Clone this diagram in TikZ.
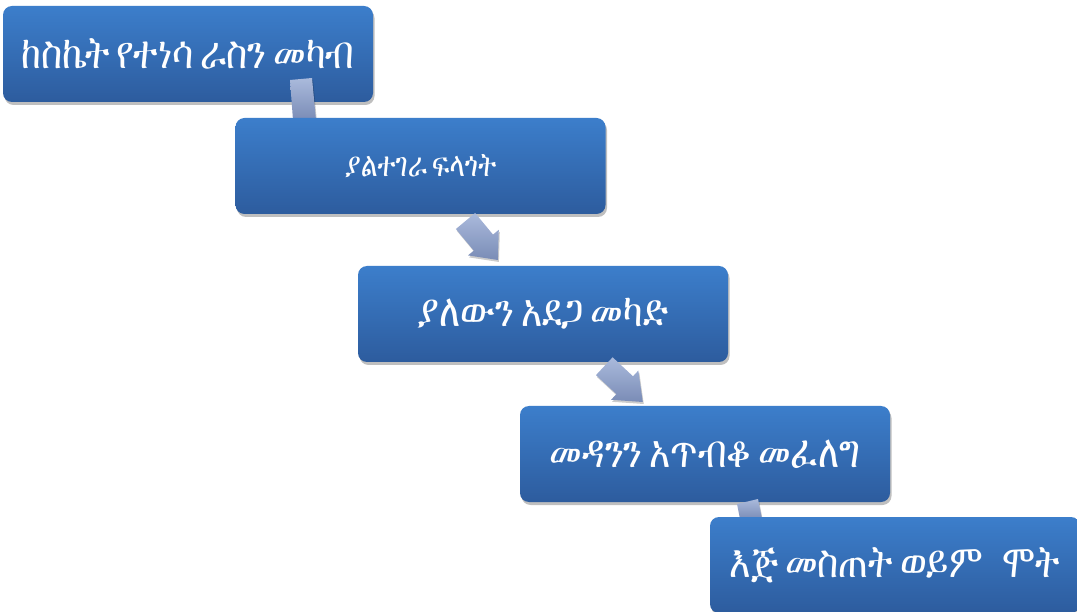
\documentclass[tikz,border=0pt]{standalone}
\usepackage{fontspec}
\usetikzlibrary{shadows}
\newfontfamily\eth[Script=Ethiopic,WordSpace=0.75]{FreeSerif}
\newcommand{\ethtxt}[1]{\scalebox{0.95}[1.2]{#1}}
\definecolor{boxtop}{RGB}{60,126,203}
\definecolor{boxbot}{RGB}{45,92,158}
\definecolor{arrtop}{RGB}{170,186,220}
\definecolor{arrbot}{RGB}{122,140,182}
\tikzset{
  stepbox/.style={rectangle, rounded corners=9pt, minimum width=370pt, minimum height=96pt,
    top color=boxtop, bottom color=boxbot, text=white, inner sep=0pt,
    drop shadow={shadow xshift=1.5pt, shadow yshift=-3pt, opacity=0.25, fill=black}},
  bigtext/.style={font=\eth\fontsize{38}{44}\selectfont},
  smalltext/.style={font=\eth\fontsize{28}{32}\selectfont},
  blockarrow/.style={top color=arrtop, bottom color=arrbot, draw=none,
    drop shadow={shadow xshift=1pt, shadow yshift=-2pt, opacity=0.2, fill=black}}
}
\begin{document}
\begin{tikzpicture}[x=1pt,y=-1pt]
\useasboundingbox (0,0) rectangle (1077,612);
\fill[white] (0,0) rectangle (1077,612);
% box 1
\node[stepbox, bigtext] (b1) at (188,54) {\ethtxt{ከስኬት የተነሳ ራስን መካብ}};
\path[blockarrow] (290,80) -- (312,78) -- (316,120) -- (293,120) -- cycle;
% box 2
\node[stepbox, smalltext] (b2) at (420.5,166) {\ethtxt{ያልተገራ ፍላጎት}};
\path[blockarrow] (475.1,213) -- (493,234.6) -- (498.8,229.8) -- (497.9,260) -- (468,255.4) -- (473.8,250.6) -- (455.9,229) -- cycle;
% box 3
\node[stepbox, bigtext] (b3) at (543,314) {\ethtxt{ያለውን አደጋ መካድ}};
\path[blockarrow] (612.6,357.3) -- (633,376.3) -- (638.3,370.6) -- (642.8,402) -- (611.1,399.8) -- (616.4,394.1) -- (596,375.1) -- cycle;
% box 4
\node[stepbox, bigtext] (b4) at (705,454) {\ethtxt{መዳንን አጥብቆ መፈለግ}};
\path[blockarrow] (737,504) -- (758,499) -- (762,519) -- (740,519) -- cycle;
% box 5
\node[stepbox, bigtext] (b5) at (895,565) {\ethtxt{እጅ መስጠት ወይም\hspace{0.55em}ሞት}};
\end{tikzpicture}
\end{document}
